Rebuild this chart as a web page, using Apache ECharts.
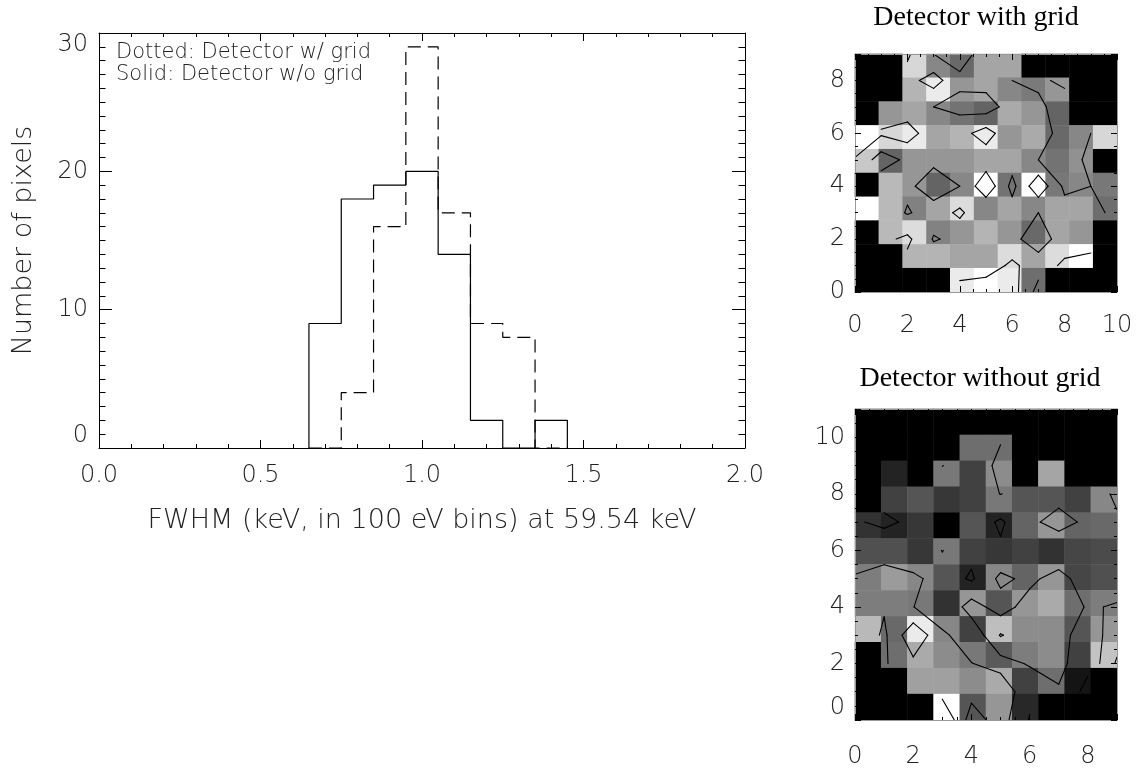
<!DOCTYPE html>
<html><head><meta charset="utf-8">
<script src="https://cdn.jsdelivr.net/npm/echarts@6/dist/echarts.min.js"></script>
<style>html,body{margin:0;padding:0;background:#fff}#c{width:1138px;height:769px}</style>
</head><body><div id="c"></div>
<script>
// ---------- Histogram data ----------
const binCenters = [0.7, 0.8, 0.9, 1.0, 1.1, 1.2, 1.3, 1.4];   // keV
const binWidth = 0.1;
const countsWithGrid = [0, 4, 16, 29, 17, 9, 8, 0];      // dashed
const countsWithoutGrid = [9, 18, 19, 20, 14, 2, 0, 2];  // solid
const histXTicks = [0.0, 0.5, 1.0, 1.5, 2.0];
const histYTicks = [0, 10, 20, 30];
const legendLines = ['Dotted: Detector w/ grid', 'Solid: Detector w/o grid'];
const xTitle = 'FWHM (keV, in 100 eV bins) at 59.54 keV';
const yTitle = 'Number of pixels';

// ---------- Detector maps (grey level 0-255, rows listed top -> bottom, 0 = black) ----------
const titleWith = 'Detector with grid';
const titleWithout = 'Detector without grid';
const mapWithRows = [
  [0,   0,   215, 135, 105, 165, 165, 0,   0,   0,   0],
  [0,   0,   180, 235, 150, 165, 135, 122, 150, 0,   0],
  [0,   150, 165, 135, 115, 100, 170, 150, 100, 0,   0],
  [255, 215, 235, 165, 180, 235, 150, 170, 105, 135, 215],
  [200, 100, 150, 150, 150, 165, 165, 135, 115, 145, 0],
  [0,   185, 150, 100, 135, 255, 115, 255, 120, 135, 120],
  [255, 185, 129, 165, 220, 135, 165, 135, 165, 165, 110],
  [0,   185, 220, 130, 150, 180, 150, 105, 165, 150, 0],
  [0,   0,   180, 180, 165, 165, 220, 165, 220, 255, 0],
  [0,   0,   0,   0,   235, 255, 235, 110, 0,   0,   0]
];
const mapWithoutRows = [
  [0,   0,   0,   0,   0,   0,   0,   0,   0,   0],
  [0,   0,   0,   0,   110, 110, 0,   0,   0,   0],
  [0,   35,  0,   120, 65,  140, 0,   165, 0,   0],
  [0,   65,  85,  55,  65,  120, 85,  85,  65,  135],
  [50,  35,  55,  0,   85,  35,  100, 150, 100, 105],
  [80,  80,  55,  120, 65,  55,  65,  50,  70,  75],
  [125, 155, 135, 85,  35,  135, 100, 150, 70,  80],
  [125, 125, 120, 50,  150, 85,  150, 170, 110, 125],
  [185, 105, 235, 135, 65,  190, 140, 140, 85,  150],
  [0,   110, 170, 140, 120, 90,  125, 140, 65,  195],
  [0,   0,   160, 160, 140, 170, 65,  110, 20,  0],
  [0,   0,   0,   255, 85,  150, 40,  0,   0,   0]
];
const mapWithTicksX = [0, 2, 4, 6, 8, 10];
const mapWithTicksY = [0, 2, 4, 6, 8];
const mapWithoutTicksX = [0, 2, 4, 6, 8];
const mapWithoutTicksY = [0, 2, 4, 6, 8, 10];
const contourLevelsWith = [135, 205];
const contourLevelsWithout = [45, 118, 185];

// ---------- helpers ----------
function stepPoints(centers, counts, w) {
  const pts = [[centers[0] - w / 2, 0]];
  centers.forEach((c, i) => { pts.push([c - w / 2, counts[i]]); pts.push([c + w / 2, counts[i]]); });
  pts.push([centers[centers.length - 1] + w / 2, 0]);
  return pts;
}
function heatData(rows) {
  const ny = rows.length, out = [];
  rows.forEach((r, k) => r.forEach((v, i) => out.push([i, ny - 1 - k, v])));
  return out;
}
function contourSegments(rows, levels) {
  const ny = rows.length, nx = rows[0].length;
  const val = (i, j) => rows[ny - 1 - j][i];
  const segs = [];
  levels.forEach(L => {
    for (let j = 0; j < ny - 1; j++) for (let i = 0; i < nx - 1; i++) {
      const a = val(i, j), b = val(i + 1, j), c = val(i + 1, j + 1), d = val(i, j + 1);
      if (!a || !b || !c || !d) continue;
      const up = v => v >= L;
      const e = [];
      e[0] = up(a) !== up(b) ? [i + (L - a) / (b - a), j] : null;       // bottom
      e[1] = up(b) !== up(c) ? [i + 1, j + (L - b) / (c - b)] : null;   // right
      e[2] = up(d) !== up(c) ? [i + (L - d) / (c - d), j + 1] : null;   // top
      e[3] = up(a) !== up(d) ? [i, j + (L - a) / (d - a)] : null;       // left
      const pts = e.filter(p => p);
      if (pts.length === 2) segs.push([pts[0][0], pts[0][1], pts[1][0], pts[1][1]]);
      else if (pts.length === 4) {
        const ctr = (a + b + c + d) / 4;
        const pairs = (up(ctr) === up(a)) ? [[0, 1], [2, 3]] : [[3, 0], [1, 2]];
        pairs.forEach(([p, q]) => segs.push([e[p][0], e[p][1], e[q][0], e[q][1]]));
      }
    }
  });
  return segs;
}
function contourSeries(rows, levels, xi, yi) {
  return {
    type: 'custom', xAxisIndex: xi, yAxisIndex: yi, silent: true, z: 5, clip: true,
    data: contourSegments(rows, levels),
    encode: { x: [0, 2], y: [1, 3] },
    renderItem: (params, api) => {
      const p1 = api.coord([api.value(0), api.value(1)]);
      const p2 = api.coord([api.value(2), api.value(3)]);
      return { type: 'line', shape: { x1: p1[0], y1: p1[1], x2: p2[0], y2: p2[1] },
               style: { stroke: '#000', lineWidth: 1.1, lineCap: 'round' } };
    }
  };
}

const FONT = '"DejaVu Sans", sans-serif';
const labelStyle = { fontFamily: FONT, fontSize: 24, color: '#222', fontWeight: 300 };

function valueAxis(opt) {
  const base = {
    type: 'value', z: 10, splitLine: { show: false },
    axisLine: { show: true, onZero: false, lineStyle: { color: opt.lineColor || '#000', width: 1 } },
    axisTick: { show: true, inside: true, length: opt.tickLen, lineStyle: { color: '#000' } },
    minorTick: { show: true, splitNumber: opt.minorSplit, length: opt.minorLen, lineStyle: { color: '#000' } },
    axisLabel: opt.labels ? Object.assign({ show: true, margin: opt.margin,
        formatter: opt.fmt, showMinLabel: true, showMaxLabel: true }, labelStyle, opt.labelExtra || {})
      : { show: false }
  };
  delete opt.lineColor; delete opt.tickLen; delete opt.minorSplit; delete opt.minorLen;
  delete opt.labels; delete opt.margin; delete opt.fmt; delete opt.labelExtra;
  return Object.assign(base, opt);
}
function tickFmt(ticks, digits) {
  return v => { const t = ticks.find(x => Math.abs(x - v) < 1e-6); return t === undefined ? '' : t.toFixed(digits); };
}

const chart = echarts.init(document.getElementById('c'), null, { renderer: 'canvas' });

const nxW = mapWithRows[0].length, nyW = mapWithRows.length;
const nxO = mapWithoutRows[0].length, nyO = mapWithoutRows.length;
const idx = n => Array.from({ length: n }, (_, i) => i);

chart.setOption({
  animation: false,
  backgroundColor: '#fff',
  grid: [
    { left: 99, top: 33, width: 646, height: 415 },
    { left: 855, top: 54, width: 262, height: 238 },
    { left: 855, top: 409, width: 262, height: 315 }
  ],
  xAxis: [
    valueAxis({ gridIndex: 0, position: 'bottom', min: 0, max: 2, interval: 0.5, tickLen: 8, minorSplit: 5, minorLen: 4,
      labels: true, margin: 16, fmt: tickFmt(histXTicks, 1),
      name: xTitle, nameLocation: 'middle', nameGap: 59,
      nameTextStyle: { fontFamily: FONT, fontSize: 27, color: '#222', fontWeight: 300 } }),
    valueAxis({ gridIndex: 0, position: 'top', min: 0, max: 2, interval: 0.5, tickLen: 8, minorSplit: 5, minorLen: 4 }),
    { type: 'category', gridIndex: 1, data: idx(nxW), show: false },
    valueAxis({ gridIndex: 1, position: 'bottom', min: 0, max: nxW - 1, interval: 2, tickLen: 6, minorSplit: 4, minorLen: 3,
      lineColor: '#999', labels: true, margin: 22, fmt: tickFmt(mapWithTicksX, 0) }),
    valueAxis({ gridIndex: 1, position: 'top', min: 0, max: nxW - 1, interval: 2, tickLen: 6, minorSplit: 4, minorLen: 3, lineColor: '#999' }),
    { type: 'category', gridIndex: 2, data: idx(nxO), show: false },
    valueAxis({ gridIndex: 2, position: 'bottom', min: 0, max: nxO - 1, interval: 2, tickLen: 6, minorSplit: 4, minorLen: 3,
      lineColor: '#999', labels: true, margin: 25, fmt: tickFmt(mapWithoutTicksX, 0) }),
    valueAxis({ gridIndex: 2, position: 'top', min: 0, max: nxO - 1, interval: 2, tickLen: 6, minorSplit: 4, minorLen: 3, lineColor: '#999' })
  ],
  yAxis: [
    valueAxis({ gridIndex: 0, position: 'left', min: 0, max: 30, interval: 10, tickLen: 13, minorSplit: 10, minorLen: 6.5,
      labels: true, margin: 11, fmt: tickFmt(histYTicks, 0),
      labelExtra: { verticalAlignMinLabel: 'bottom', verticalAlignMaxLabel: 'top' },
      name: yTitle, nameLocation: 'middle', nameGap: 62, nameRotate: 90,
      nameTextStyle: { fontFamily: FONT, fontSize: 27, color: '#222', fontWeight: 300 } }),
    valueAxis({ gridIndex: 0, position: 'right', min: 0, max: 30, interval: 10, tickLen: 13, minorSplit: 10, minorLen: 6.5 }),
    { type: 'category', gridIndex: 1, data: idx(nyW), show: false },
    valueAxis({ gridIndex: 1, position: 'left', min: 0, max: nyW - 1, interval: 2, tickLen: 6, minorSplit: 4, minorLen: 3,
      lineColor: '#999', labels: true, margin: 10, fmt: tickFmt(mapWithTicksY, 0) }),
    valueAxis({ gridIndex: 1, position: 'right', min: 0, max: nyW - 1, interval: 2, tickLen: 6, minorSplit: 4, minorLen: 3, lineColor: '#999' }),
    { type: 'category', gridIndex: 2, data: idx(nyO), show: false },
    valueAxis({ gridIndex: 2, position: 'left', min: 0, max: nyO - 1, interval: 2, tickLen: 6, minorSplit: 4, minorLen: 3,
      lineColor: '#999', labels: true, margin: 10, fmt: tickFmt(mapWithoutTicksY, 0),
      labelExtra: { verticalAlignMinLabel: 'bottom' } }),
    valueAxis({ gridIndex: 2, position: 'right', min: 0, max: nyO - 1, interval: 2, tickLen: 6, minorSplit: 4, minorLen: 3, lineColor: '#999' })
  ],
  visualMap: [
    { type: 'continuous', show: false, min: 0, max: 255, dimension: 2, seriesIndex: 2, inRange: { color: ['#000000', '#ffffff'] } },
    { type: 'continuous', show: false, min: 0, max: 255, dimension: 2, seriesIndex: 4, inRange: { color: ['#000000', '#ffffff'] } }
  ],
  series: [
    { type: 'line', xAxisIndex: 0, yAxisIndex: 0, data: stepPoints(binCenters, countsWithGrid, binWidth),
      symbol: 'none', lineStyle: { color: '#000', width: 1.2, type: [13, 7] }, z: 3 },
    { type: 'line', xAxisIndex: 0, yAxisIndex: 0, data: stepPoints(binCenters, countsWithoutGrid, binWidth),
      symbol: 'none', lineStyle: { color: '#000', width: 1.2 }, z: 4 },
    { type: 'heatmap', xAxisIndex: 2, yAxisIndex: 2, data: heatData(mapWithRows), silent: true },
    contourSeries(mapWithRows, contourLevelsWith, 3, 3),
    { type: 'heatmap', xAxisIndex: 5, yAxisIndex: 5, data: heatData(mapWithoutRows), silent: true },
    contourSeries(mapWithoutRows, contourLevelsWithout, 6, 6)
  ],
  graphic: [
    { type: 'text', x: 116, y: 53, style: { text: legendLines[0], fontFamily: FONT, fontSize: 21, fontWeight: 300, fill: '#222', align: 'left', verticalAlign: 'middle' } },
    { type: 'text', x: 116, y: 75, style: { text: legendLines[1], fontFamily: FONT, fontSize: 21, fontWeight: 300, fill: '#222', align: 'left', verticalAlign: 'middle' } },
    { type: 'text', x: 976, y: 18, style: { text: titleWith, fontFamily: '"Liberation Serif", serif', fontSize: 28, fill: '#000', align: 'center', verticalAlign: 'middle' } },
    { type: 'text', x: 980, y: 379, style: { text: titleWithout, fontFamily: '"Liberation Serif", serif', fontSize: 28, fill: '#000', align: 'center', verticalAlign: 'middle' } }
  ]
});
</script></body></html>
